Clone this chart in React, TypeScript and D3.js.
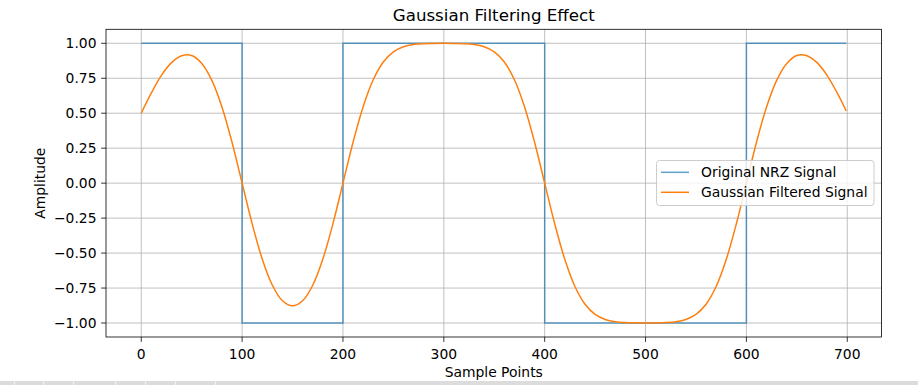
import * as d3 from "d3";

// NRZ bits, one per 100 samples
const bits = [1, -1, 1, 1, -1, -1, 1];
const samplesPerBit = 100;

// Gaussian filtered signal, read every 10 samples off the chart
const filteredX = [
  0, 10, 20, 30, 40, 50, 60, 70, 80, 90,
  100, 110, 120, 130, 140, 150, 160, 170, 180, 190,
  200, 210, 220, 230, 240, 250, 260, 270, 280, 290,
  300, 310, 320, 330, 340, 350, 360, 370, 380, 390,
  400, 410, 420, 430, 440, 450, 460, 470, 480, 490,
  500, 510, 520, 530, 540, 550, 560, 570, 580, 590,
  600, 610, 620, 630, 640, 650, 660, 670, 680, 690, 699,
];
const filteredY = [
  0.5, 0.645, 0.771, 0.862, 0.911, 0.913, 0.856, 0.735, 0.545, 0.292,
  0.0, -0.291, -0.544, -0.73, -0.841, -0.877, -0.841, -0.73, -0.544, -0.291,
  0.0, 0.292, 0.546, 0.739, 0.866, 0.939, 0.975, 0.991, 0.997, 0.999,
  1.0, 0.999, 0.997, 0.991, 0.975, 0.939, 0.866, 0.739, 0.546, 0.292,
  0.0, -0.292, -0.546, -0.739, -0.866, -0.939, -0.975, -0.991, -0.997, -0.999,
  -1.0, -0.999, -0.997, -0.991, -0.975, -0.939, -0.866, -0.739, -0.546, -0.292,
  0.0, 0.292, 0.545, 0.735, 0.856, 0.913, 0.911, 0.862, 0.771, 0.645, 0.516,
];

const xTicks = [0, 100, 200, 300, 400, 500, 600, 700];
const yTicks = [-1, -0.75, -0.5, -0.25, 0, 0.25, 0.5, 0.75, 1];
const legendLabels = ["Original NRZ Signal", "Gaussian Filtered Signal"];

const W = 918;
const H = 385;
const font = "DejaVu Sans, sans-serif";
const blue = "#1f77b4";
const orange = "#ff7f0e";

export default function App() {
  const left = 106, right = 881.5, top = 29.3, bottom = 337;
  const x = d3.scaleLinear().domain([-34.95, 733.95]).range([left, right]);
  const y = d3.scaleLinear().domain([-1.1, 1.1]).range([bottom, top]);

  // step points for the NRZ line
  const nrzPts: [number, number][] = bits.map((b, i) => [i * samplesPerBit, b]);
  nrzPts.push([bits.length * samplesPerBit - 1, bits[bits.length - 1]]);
  const stepLine = d3
    .line<[number, number]>()
    .x((d) => x(d[0]))
    .y((d) => y(d[1]))
    .curve(d3.curveStepAfter);

  const smoothLine = d3
    .line<number>()
    .x((_, i) => x(filteredX[i]))
    .y((d) => y(d))
    .curve(d3.curveCatmullRom);

  const lg = { x: 656.5, y: 160.5, w: 217.5, h: 45 };

  return (
    <svg
      width={W}
      height={H}
      style={{ position: "absolute", left: 0, top: 0, background: "#fff" }}
      fontFamily={font}
    >
      <rect width={W} height={H} fill="#fff" />
      <defs>
        <clipPath id="plot">
          <rect x={left} y={top} width={right - left} height={bottom - top} />
        </clipPath>
      </defs>

      {/* grid */}
      <g stroke="#b0b0b0" strokeWidth={0.8}>
        {xTicks.map((t) => (
          <line key={"gx" + t} x1={x(t)} x2={x(t)} y1={top} y2={bottom} />
        ))}
        {yTicks.map((t) => (
          <line key={"gy" + t} x1={left} x2={right} y1={y(t)} y2={y(t)} />
        ))}
      </g>

      <g clipPath="url(#plot)" fill="none" strokeWidth={1.5}>
        <path d={stepLine(nrzPts) || ""} stroke={blue} strokeOpacity={0.7} />
        <path d={smoothLine(filteredY) || ""} stroke={orange} strokeLinejoin="round" />
      </g>

      {/* spines */}
      <rect
        x={left}
        y={top}
        width={right - left}
        height={bottom - top}
        fill="none"
        stroke="#000"
        strokeWidth={0.8}
      />

      {/* x ticks */}
      {xTicks.map((t) => (
        <g key={"xt" + t}>
          <line x1={x(t)} x2={x(t)} y1={bottom} y2={bottom + 4.86} stroke="#000" strokeWidth={0.8} />
          <text x={x(t)} y={359} fontSize={13.89} textAnchor="middle" fill="#000">
            {t}
          </text>
        </g>
      ))}

      {/* y ticks */}
      {yTicks.map((t) => (
        <g key={"yt" + t}>
          <line x1={left - 4.86} x2={left} y1={y(t)} y2={y(t)} stroke="#000" strokeWidth={0.8} />
          <text x={96.5} y={y(t) + 5} fontSize={13.89} textAnchor="end" fill="#000">
            {d3.format(".2f")(t).replace("-", "\u2212")}
          </text>
        </g>
      ))}

      <text x={(left + right) / 2} y={376.5} fontSize={13.89} textAnchor="middle">
        Sample Points
      </text>
      <text
        transform={`translate(45,${(top + bottom) / 2}) rotate(-90)`}
        fontSize={13.89}
        textAnchor="middle"
      >
        Amplitude
      </text>
      <text x={(left + right) / 2} y={20.8} fontSize={16.67} textAnchor="middle">
        Gaussian Filtering Effect
      </text>

      {/* legend */}
      <rect
        x={lg.x}
        y={lg.y}
        width={lg.w}
        height={lg.h}
        rx={3}
        fill="#fff"
        fillOpacity={0.8}
        stroke="#cccccc"
        strokeWidth={1}
      />
      {legendLabels.map((label, i) => {
        const ly = 172.3 + i * 20;
        return (
          <g key={label}>
            <line
              x1={661}
              x2={689}
              y1={ly}
              y2={ly}
              stroke={i === 0 ? blue : orange}
              strokeOpacity={i === 0 ? 0.7 : 1}
              strokeWidth={1.5}
            />
            <text x={701} y={ly + 5} fontSize={13.89}>
              {label}
            </text>
          </g>
        );
      })}

      {/* window toolbar strip at the bottom */}
      <rect x={0} y={381} width={W} height={4} fill="#dcdcdc" />
      {[14, 43, 73, 115, 145, 175, 215].map((bx) => (
        <rect key={bx} x={bx} y={381} width={1} height={4} fill="#f0f0f0" />
      ))}
    </svg>
  );
}
